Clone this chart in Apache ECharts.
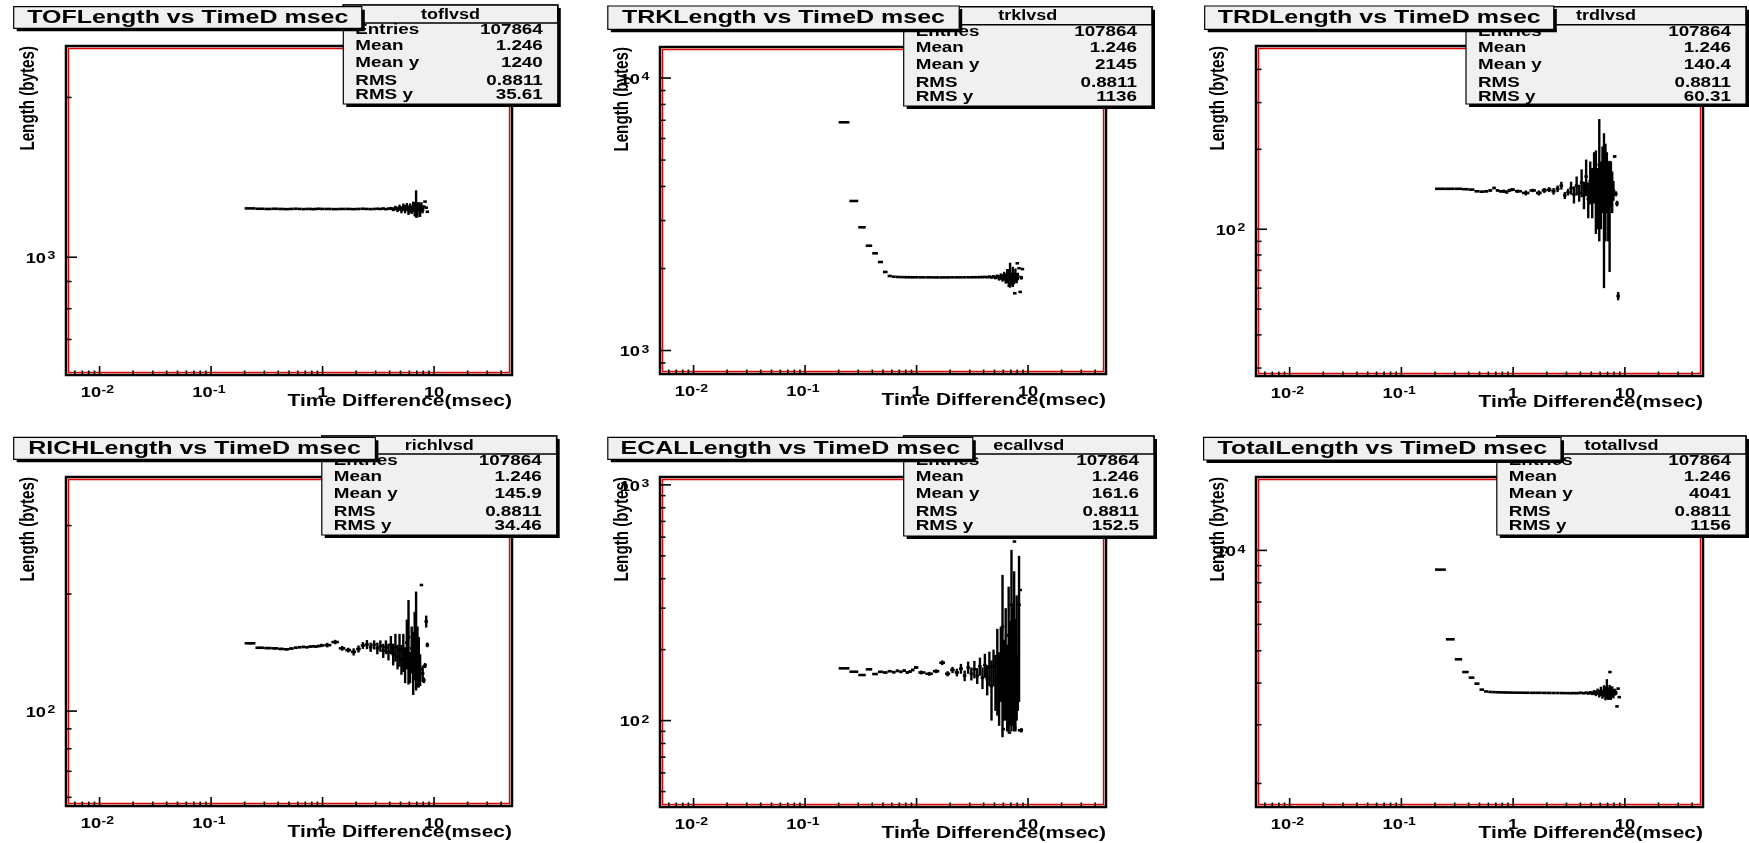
<!DOCTYPE html>
<html><head><meta charset="utf-8">
<script src="https://cdn.jsdelivr.net/npm/echarts@6/dist/echarts.min.js"></script>
<style>html,body{margin:0;padding:0;background:#fff}#c{width:1749px;height:843px}</style>
</head><body><div id="c"></div>
<script>
// ---------- data ----------
const timeBins = [0.225,0.275,0.325,0.375,0.425,0.475,0.525,0.575,0.625,0.675,0.725,0.775,0.825,0.875,0.925,0.975,
  1.1,1.3,1.5,1.7,1.9,2.1,2.3,2.5,2.7,2.9,3.1,3.3,3.5,3.7,3.9,
  4.1,4.3,4.5,4.7,4.9,5.1,5.3,5.5,5.7,5.9,6.1,6.3,6.5,6.7,6.9,7.1,7.3,7.5,7.7,7.9,8.1,8.3,8.5,8.7,8.9];

const tofMean = [1236,1234,1233,1234,1233,1232,1233,1234,1233,1232,1233,1233,1232,1233,1234,1233,
  1233,1232,1233,1233,1232,1233,1234,1233,1232,1233,1234,1233,1235,1232,1234,
  1236,1231,1238,1230,1240,1228,1242,1232,1245,1226,1238,1228,1245,1232,1262,1228,1248,1226,1242,1230,1245,1273,1240,1218,null];
const tofErr = [3,3,2,2,2,2,2,2,2,2,2,2,2,2,2,2,
  2,2,2,2,2,3,3,3,3,3,4,4,5,5,6,
  8,10,12,14,16,18,20,22,20,25,25,22,28,38,75,40,22,35,28,20,6,2,2,2,0];

const trkMean = [6880,3538,2833,2425,2274,2113,1942,1877,1866,1862,1860,1859,1858,1858,1857,1857,
  1856,1856,1855,1855,1855,1856,1856,1856,1857,1857,1857,1858,1858,1859,1860,
  1862,1858,1866,1855,1870,1850,1872,1845,1868,1850,1875,1840,1880,1850,1900,1830,1870,1840,1890,1845,1870,2005,1641,1850,1990];
const trkErr = [0,0,0,0,0,0,0,2,2,2,2,2,2,2,2,2,
  2,2,2,2,2,3,3,3,3,4,4,5,6,7,8,
  10,12,15,18,22,26,30,40,50,60,70,80,110,140,200,100,160,90,110,80,60,3,3,30,3];
const trkExtraX = [7.6, 8.0];
const trkExtraY = [1622, 2090];

const trdMean = [142,142,142,141.5,141,139,138.5,139,140,143,140,139,139,138,140,141,
  139,137,140,137,140,141,139,142,146,134,138,143,135,146,137,
  150,135,158,130,152,140,160,147,135,175,140,160,145,150,155,135,125,150,140,140,188,136,125,56,null];
const trdErr = [1,1,1,1,1,1,1,1.5,1.5,1.5,1.5,1.5,2,2,2,2,
  2,3,2,3,3,3,4,4,5,4,4,8,10,12,10,
  18,16,25,20,28,30,35,51,35,85,40,45,85,60,40,45,56,30,25,12,2,3,3,2,0];

const richMean = [149.4,145.5,145.2,145,144.5,144.2,144.8,145.5,146,146.2,146,146.5,146.8,146.5,147,147.5,
  147.8,150.5,145,143.5,142,144.5,147.5,148.3,146,148,145,147,143,146,142,
  148,140,146,138,144,136,142,132,150,155,130,145,135,150,158,140,135,128,211,125,120,131,170,148,null];
const richErr = [1,1,1,1,1,1,1,1,1,1,1,1,1,1,1,1.5,
  2,2,2,2,3,3,3,4,4,4,5,5,6,6,7,
  8,9,12,10,14,12,16,14,22,38,12,20,25,30,45,25,20,12,1,6,2,2,6,2,0];

const ecalMean = [166.6,161.2,156.1,165,157.6,161,160,162,160.5,162.5,161,163,160,161.5,164,168,
  160,158,162,176,158,164,160,166,155,168,158,165,155,170,152,
  172,150,168,140,170,150,175,145,185,250,160,200,150,230,180,310,200,260,180,220,150,310,358,91,null];
const ecalErr = [1,1,1,1,1,1.5,1.5,1.5,2,2,2,2,2,2,2,2.5,
  3,3,3,4,4,5,6,8,8,10,10,14,12,15,16,
  20,22,28,40,30,40,70,50,65,165,60,100,60,140,85,220,105,170,90,120,40,190,2,2,0];
const ecalExtraX = [6.0, 6.8, 7.55, 7.6, 8.4];
const ecalExtraY = [92, 89, 575, 93, 91];

const totalMean = [8757,5412,4714,4317,4154,3985,3823,3775,3762,3758,3755,3752,3750,3748,3747,3745,
  3744,3742,3740,3740,3738,3737,3736,3735,3734,3733,3732,3731,3733,3730,3735,
  3740,3728,3745,3725,3750,3720,3760,3715,3770,3720,3780,3700,3790,3730,3850,3710,3760,3730,3770,3720,3760,3740,3406,3850,3630];
const totalErr = [0,0,0,0,0,0,0,2,2,2,2,2,2,2,2,2,
  2,2,2,2,3,3,3,3,4,4,5,5,6,7,8,
  10,12,15,20,30,40,50,60,80,100,120,110,150,180,260,150,190,170,140,120,90,60,5,5,5];
const totalExtraX = [7.35];
const totalExtraY = [4317];

const panelTitles = ['TOFLength vs TimeD msec','TRKLength vs TimeD msec','TRDLength vs TimeD msec',
  'RICHLength vs TimeD msec','ECALLength vs TimeD msec','TotalLength vs TimeD msec'];
const statNames = ['toflvsd','trklvsd','trdlvsd','richlvsd','ecallvsd','totallvsd'];
const statLabels = ['Entries','Mean','Mean y','RMS','RMS y'];
const tofStats = ['107864','1.246','1240','0.8811','35.61'];
const trkStats = ['107864','1.246','2145','0.8811','1136'];
const trdStats = ['107864','1.246','140.4','0.8811','60.31'];
const richStats = ['107864','1.246','145.9','0.8811','34.46'];
const ecalStats = ['107864','1.246','161.6','0.8811','152.5'];
const totalStats = ['107864','1.246','4041','0.8811','1156'];

const xRange = [0.005, 50];
const xMajorTicks = [0.01, 0.1, 1, 10];
const xMajorBase = ['10','10','1','10'];
const xMajorExp = ['-2','-1','',''];
const xMinorTicks = [0.006,0.007,0.008,0.009,0.02,0.03,0.04,0.05,0.06,0.07,0.08,0.09,
  0.2,0.3,0.4,0.5,0.6,0.7,0.8,0.9,2,3,4,5,6,7,8,9,20,30,40];

const tofYRange = [600, 2500],  tofYMajor = [1000],  tofYExp = ['3'],  tofYMinor = [600,700,800,900,2000];
const trkYRange = [820, 13000], trkYMajor = [1000,10000], trkYExp = ['3','4'], trkYMinor = [900,2000,3000,4000,5000,6000,7000,8000,9000];
const trdYRange = [28, 490],    trdYMajor = [100],   trdYExp = ['2'],   trdYMinor = [30,40,50,60,70,80,90,200,300,400];
const richYRange = [57, 400],   richYMajor = [100],  richYExp = ['2'],  richYMinor = [60,70,80,90,200,300];
const ecalYRange = [43, 1080],  ecalYMajor = [100,1000], ecalYExp = ['2','3'], ecalYMinor = [50,60,70,80,90,200,300,400,500,600,700,800,900];
const totalYRange = [1700, 16600], totalYMajor = [10000], totalYExp = ['4'], totalYMinor = [2000,3000,4000,5000,6000,7000,8000,9000];

const xTitle = 'Time Difference(msec)';
const yTitle = 'Length (bytes)';

// ---------- panels ----------
const panels = [
  {mean: tofMean, err: tofErr, ex: [], ey: [], stats: tofStats, yr: tofYRange, yMaj: tofYMajor, yExp: tofYExp, yMin: tofYMinor},
  {mean: trkMean, err: trkErr, ex: trkExtraX, ey: trkExtraY, stats: trkStats, yr: trkYRange, yMaj: trkYMajor, yExp: trkYExp, yMin: trkYMinor},
  {mean: trdMean, err: trdErr, ex: [], ey: [], stats: trdStats, yr: trdYRange, yMaj: trdYMajor, yExp: trdYExp, yMin: trdYMinor},
  {mean: richMean, err: richErr, ex: [], ey: [], stats: richStats, yr: richYRange, yMaj: richYMajor, yExp: richYExp, yMin: richYMinor},
  {mean: ecalMean, err: ecalErr, ex: ecalExtraX, ey: ecalExtraY, stats: ecalStats, yr: ecalYRange, yMaj: ecalYMajor, yExp: ecalYExp, yMin: ecalYMinor},
  {mean: totalMean, err: totalErr, ex: totalExtraX, ey: totalExtraY, stats: totalStats, yr: totalYRange, yMaj: totalYMajor, yExp: totalYExp, yMin: totalYMinor}
];

// ---------- layout (pixels) ----------
const layout = [
  {g:[66,46,446,329],   title:[13.7,6.7,361.8,28.3],   stats:[343.3,5,557.8,104]},
  {g:[660,47,446,327],  title:[607.8,6,959.2,29.3],    stats:[903.7,6.7,1152,106]},
  {g:[1256,46,447,330], title:[1204.7,6,1553.8,29.3],  stats:[1466,6.7,1746,104]},
  {g:[66,477,446,329],  title:[13.7,437.3,375.4,459.3], stats:[321.8,436,556.7,535]},
  {g:[660,477,446,330], title:[607.8,437.3,972.8,459.3], stats:[903.7,436,1154,536]},
  {g:[1256,477,447,330],title:[1203.6,437.3,1561,460],  stats:[1496.8,436,1746,535]}
];

const FONT = '"Liberation Sans", Arial, Helvetica, sans-serif';

function tEl(x, y, text, size, align, va, sx, extra) {
  return Object.assign({
    type: 'text', x: x, y: y, scaleX: sx || 1, silent: true,
    style: {text: text, fill: '#000', font: 'bold ' + size + 'px ' + FONT,
      textAlign: align, textVerticalAlign: va, align: align, verticalAlign: va}
  }, extra || {});
}

function binEdges(xs) {
  return xs.map((x, k) => {
    const prev = k > 0 ? xs[k - 1] : x - (xs[1] - xs[0]);
    const next = k < xs.length - 1 ? xs[k + 1] : x + (x - xs[k - 1]);
    return [(prev + x) / 2, (x + next) / 2];
  });
}
const edges = binEdges(timeBins);

function renderProfile(params, api) {
  const x = api.value(0), y = api.value(1), e = api.value(2), lo = api.value(3), hi = api.value(4);
  const c = api.coord([x, y]);
  let a = api.coord([lo, y])[0], b = api.coord([hi, y])[0];
  if (b - a < 3.5) { const m = (a + b) / 2; a = m - 1.75; b = m + 1.75; }
  const ch = [{type: 'line', shape: {x1: a, y1: c[1], x2: b, y2: c[1]}, style: {stroke: '#000', lineWidth: 2.6}}];
  if (e > 0) {
    const t = api.coord([x, y + e])[1];
    const bt = api.coord([x, Math.max(y - e, 1e-3)])[1];
    ch.push({type: 'line', shape: {x1: c[0], y1: t, x2: c[0], y2: bt}, style: {stroke: '#000', lineWidth: 2.4}});
  }
  return {type: 'group', children: ch};
}

function renderXTicks(params, api) {
  const cs = params.coordSys; const bottom = cs.y + cs.height;
  const major = api.value(2) === 1; const k = api.value(3);
  const px = api.coord([api.value(0), api.value(1)])[0];
  const ch = [{type: 'line', shape: {x1: px, y1: bottom - 1, x2: px, y2: bottom - (major ? 9 : 4.5)}, style: {stroke: '#000', lineWidth: 1.6}}];
  if (major) {
    const base = xMajorBase[k], exp = xMajorExp[k];
    if (exp) {
      ch.push(tEl(px + 1.5, bottom + 17.5, base, 15, 'right', 'middle', 1.22));
      ch.push(tEl(px + 2, bottom + 9, exp, 11.5, 'left', 'top', 1.22));
    } else {
      ch.push(tEl(px, bottom + 17.5, base, 15, 'center', 'middle', 1.22));
    }
  }
  return {type: 'group', children: ch};
}

function makeYTicks(exps) {
  return function (params, api) {
    const cs = params.coordSys; const left = cs.x;
    const major = api.value(2) === 1; const k = api.value(3);
    const py = api.coord([api.value(0), api.value(1)])[1];
    const ch = [{type: 'line', shape: {x1: left + 1, y1: py, x2: left + (major ? 11 : 5.5), y2: py}, style: {stroke: '#000', lineWidth: 1.6}}];
    if (major) {
      ch.push(tEl(left - 20, py + 1.5, '10', 15, 'right', 'middle', 1.22));
      ch.push(tEl(left - 18.5, py - 7, exps[k], 11.5, 'left', 'top', 1.22));
    }
    return {type: 'group', children: ch};
  };
}

const grids = [], xAxes = [], yAxes = [], series = [], elements = [];

panels.forEach((p, i) => {
  const L = layout[i];
  const [gl, gt, gw, gh] = L.g;
  grids.push({left: gl, top: gt, width: gw, height: gh, show: true, borderColor: '#000', borderWidth: 2.5, backgroundColor: '#fff'});
  const hidden = {axisLine: {show: false}, axisTick: {show: false}, axisLabel: {show: false}, splitLine: {show: false}};
  xAxes.push(Object.assign({type: 'log', logBase: 10, gridIndex: i, min: xRange[0], max: xRange[1]}, hidden));
  yAxes.push(Object.assign({type: 'log', logBase: 10, gridIndex: i, min: p.yr[0], max: p.yr[1]}, hidden));

  const data = [];
  timeBins.forEach((x, k) => {
    if (p.mean[k] == null) return;
    data.push([x, p.mean[k], p.err[k], edges[k][0], edges[k][1]]);
  });
  p.ex.forEach((x, k) => data.push([x, p.ey[k], 0, x * 0.994, x * 1.006]));
  series.push({type: 'custom', xAxisIndex: i, yAxisIndex: i, clip: true, silent: true, z: 5,
    encode: {x: 0, y: 1}, renderItem: renderProfile, data: data});

  const xt = xMajorTicks.map((v, k) => [v, p.yr[0], 1, k]).concat(xMinorTicks.map(v => [v, p.yr[0], 0, -1]));
  series.push({type: 'custom', xAxisIndex: i, yAxisIndex: i, clip: false, silent: true, z: 6,
    encode: {x: 0, y: 1}, renderItem: renderXTicks, data: xt});

  const yt = p.yMaj.map((v, k) => [xRange[0], v, 1, k]).concat(p.yMin.map(v => [xRange[0], v, 0, -1]));
  series.push({type: 'custom', xAxisIndex: i, yAxisIndex: i, clip: false, silent: true, z: 6,
    encode: {x: 0, y: 1}, renderItem: makeYTicks(p.yExp), data: yt});

  // red inner frame line
  elements.push({type: 'rect', silent: true, z: 3, shape: {x: gl + 2.5, y: gt + 2.5, width: gw - 5, height: gh - 5},
    style: {fill: 'none', stroke: '#e00000', lineWidth: 1.4}});

  // axis titles
  elements.push(tEl(gl + gw, gt + gh + 26, xTitle, 16.5, 'right', 'middle', 1.27, {z: 8}));
  elements.push(Object.assign(tEl(gl - 38, gt, yTitle, 15.2, 'right', 'middle', 1, {z: 8}), {rotation: Math.PI / 2, scaleY: 1.32}));

  // stats box
  const [sx0, sy0, sx1, sy1] = L.stats;
  elements.push({type: 'rect', silent: true, z: 40, shape: {x: sx0 + 3, y: sy0 + 3, width: sx1 - sx0, height: sy1 - sy0}, style: {fill: '#000'}});
  elements.push({type: 'rect', silent: true, z: 41, shape: {x: sx0, y: sy0, width: sx1 - sx0, height: sy1 - sy0}, style: {fill: '#f0f0f0', stroke: '#000', lineWidth: 1.2}});
  const lineOff = [25, 41.2, 57.8, 76, 90.3];
  statLabels.forEach((lab, k) => {
    elements.push(tEl(sx0 + 12, sy0 + lineOff[k], lab, 15.2, 'left', 'middle', 1.24, {z: 42}));
    elements.push(tEl(sx1 - 15, sy0 + lineOff[k], p.stats[k], 15.2, 'right', 'middle', 1.24, {z: 42}));
  });
  elements.push({type: 'rect', silent: true, z: 43, shape: {x: sx0, y: sy0, width: sx1 - sx0, height: 18}, style: {fill: '#f0f0f0', stroke: '#000', lineWidth: 1.6}});
  elements.push(tEl((sx0 + sx1) / 2, sy0 + 9.5, statNames[i], 14.5, 'center', 'middle', 1.24, {z: 44}));

  // title box
  const [tx0, ty0, tx1, ty1] = L.title;
  elements.push({type: 'rect', silent: true, z: 50, shape: {x: tx0 + 3, y: ty0 + 3, width: tx1 - tx0, height: ty1 - ty0}, style: {fill: '#000'}});
  elements.push({type: 'rect', silent: true, z: 51, shape: {x: tx0, y: ty0, width: tx1 - tx0, height: ty1 - ty0}, style: {fill: '#f0f0f0', stroke: '#000', lineWidth: 1.2}});
  elements.push(tEl((tx0 + tx1) / 2, (ty0 + ty1) / 2 + 0.5, panelTitles[i], 18.8, 'center', 'middle', 1.33, {z: 52}));
});

const chart = echarts.init(document.getElementById('c'), null, {renderer: 'canvas'});
chart.setOption({
  animation: false,
  backgroundColor: '#fff',
  grid: grids, xAxis: xAxes, yAxis: yAxes, series: series,
  graphic: {elements: elements}
});
</script></body></html>
